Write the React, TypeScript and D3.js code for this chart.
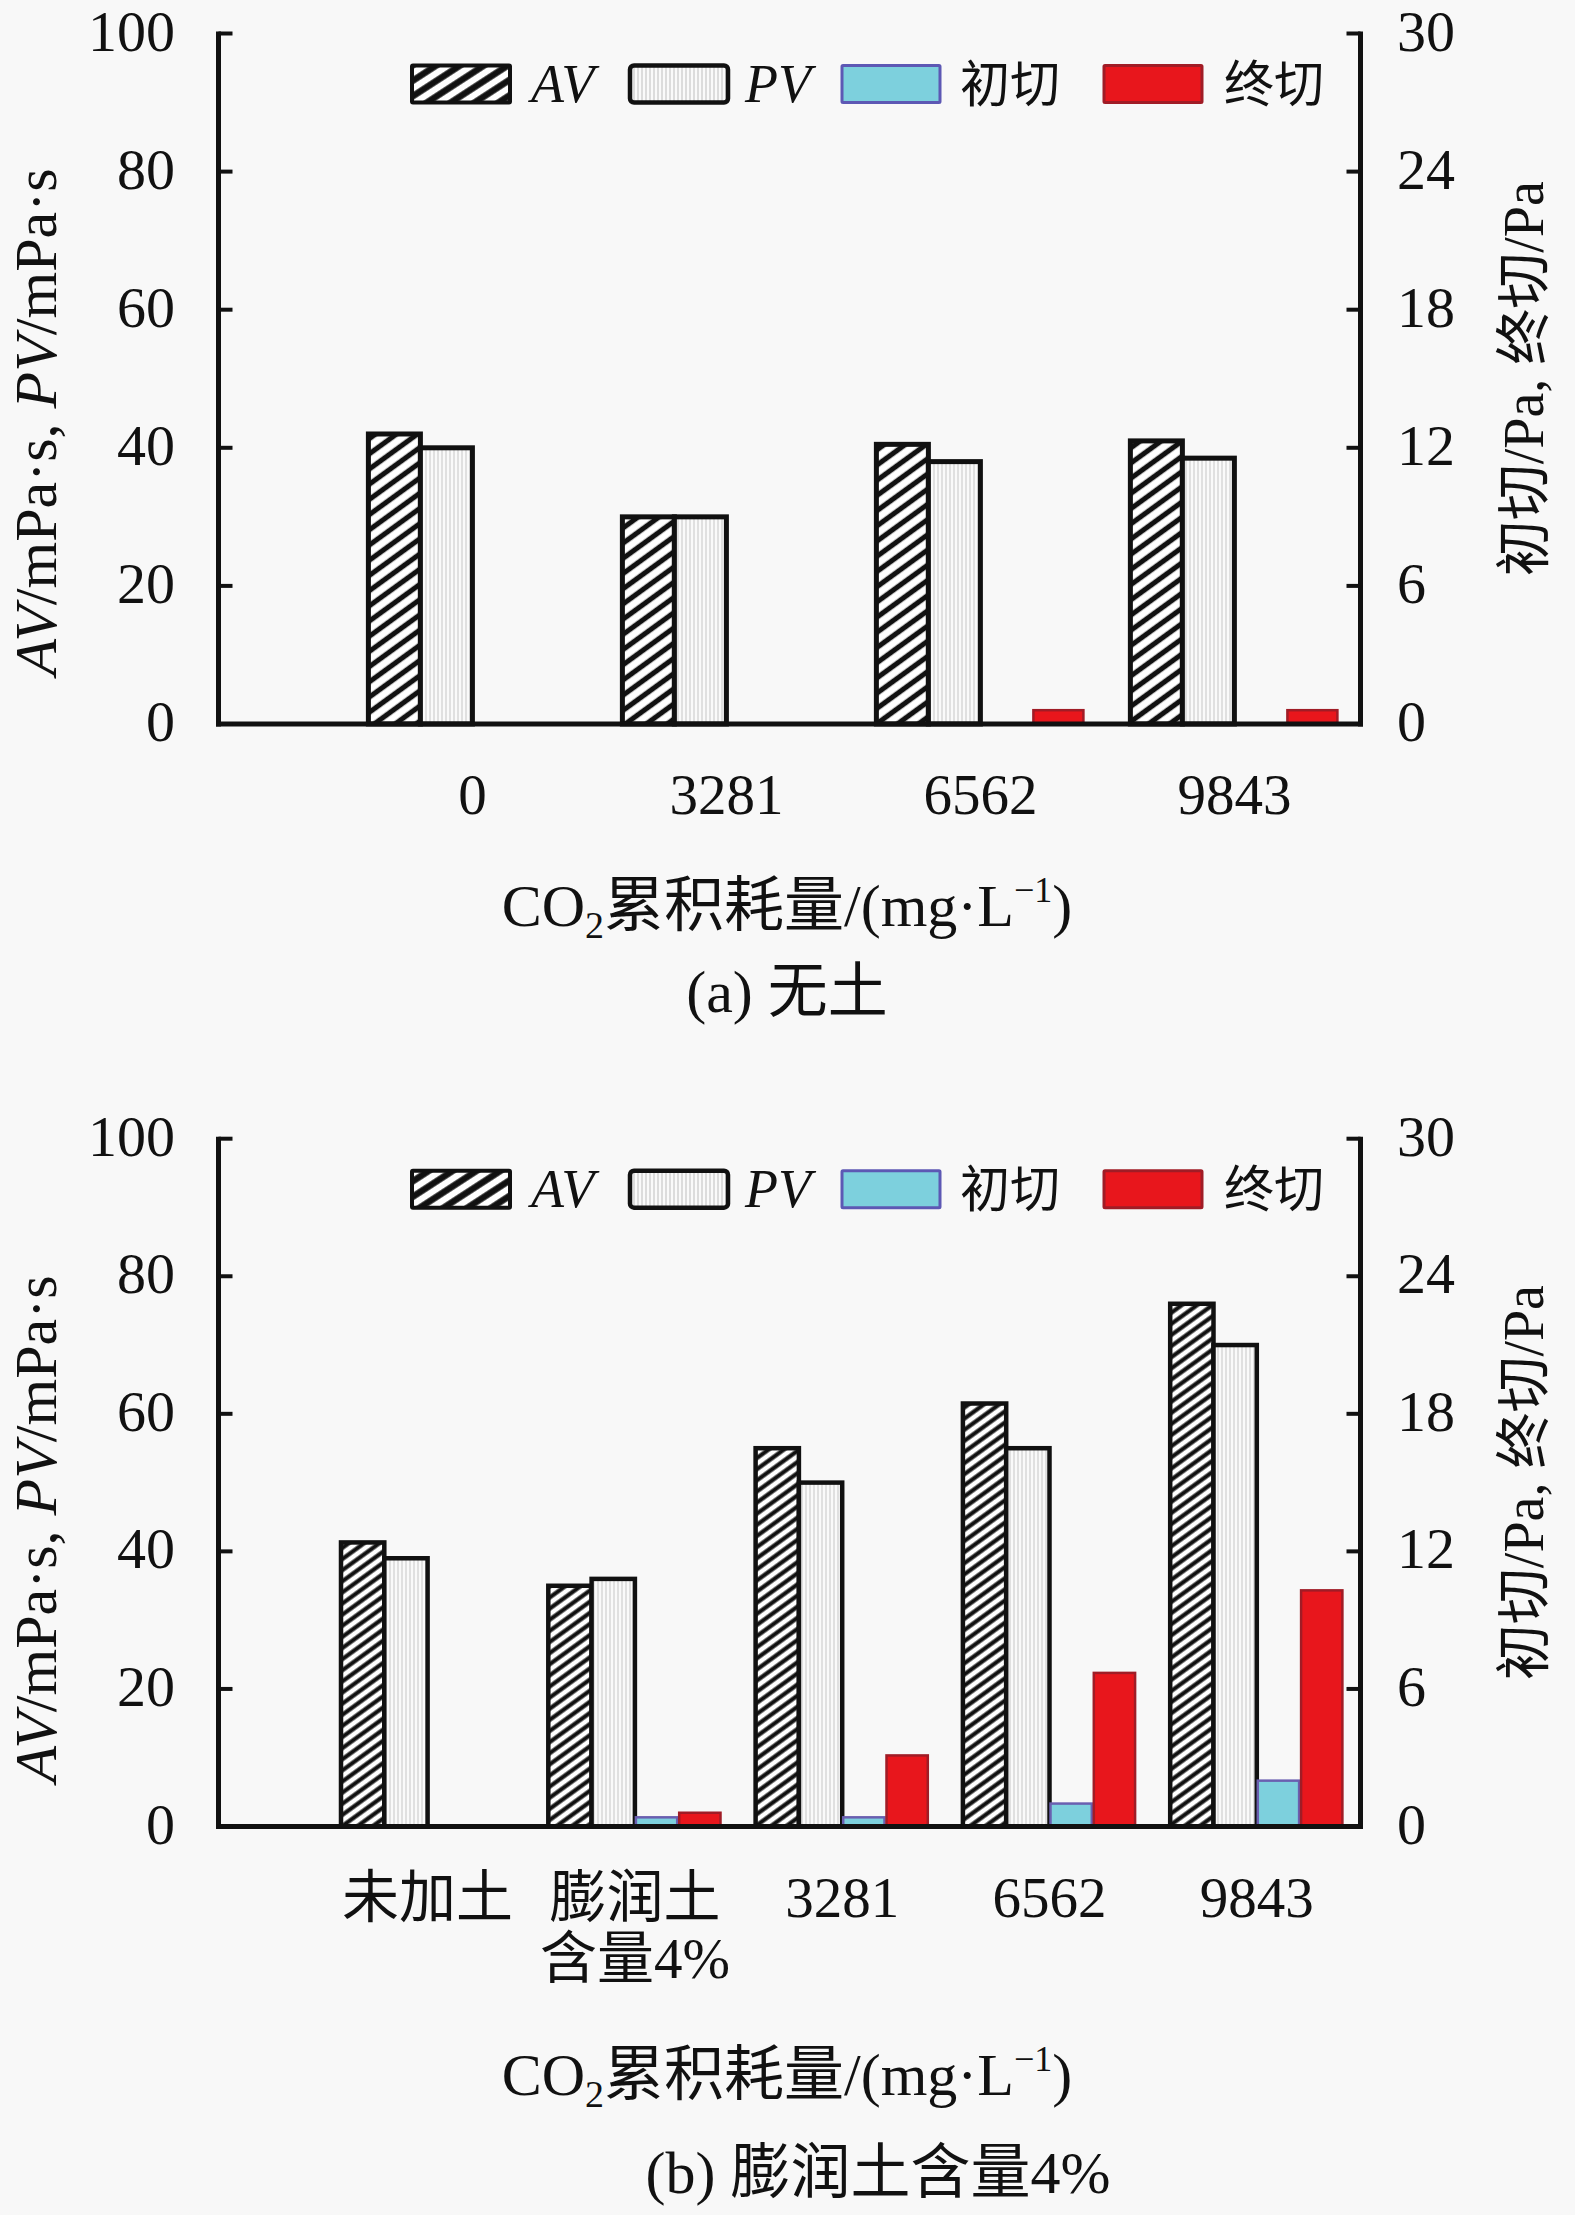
import React from "react";
import * as d3 from "d3";

// ---------- data ----------
const SERIES = ["AV", "PV", "初切", "终切"];
const LEFT_TICKS = [0, 20, 40, 60, 80, 100];
const RIGHT_TICKS = [0, 6, 12, 18, 24, 30];

// (a) 无土
const A_CATS = [["0"], ["3281"], ["6562"], ["9843"]];
const A_AV = [42, 30, 40.5, 41];
const A_PV = [40, 30, 38, 38.5];
const A_INIT = [0, 0, 0, 0];
const A_FINAL = [0, 0, 0.6, 0.6];

// (b) 膨润土含量4%
const B_CATS = [["未加土"], ["膨润土", "含量4%"], ["3281"], ["6562"], ["9843"]];
const B_AV = [41.3, 35, 55, 61.5, 76];
const B_PV = [39, 36, 50, 55, 70];
const B_INIT = [0, 0.4, 0.4, 1.0, 2.0];
const B_FINAL = [0, 0.6, 3.1, 6.7, 10.3];

const SERIF = "'Liberation Serif', 'Times New Roman', 'Noto Sans CJK SC', serif";
const BG = "#f8f8f8";

const LEFT_X = 218.5;
const RIGHT_X = 1360.5;

function Legend({ y }: { y: number }) {
  const sw = [412, 630, 842, 1104];
  const tx = [531, 745, 960, 1224];
  const fills = ["url(#hatchLeg)", "url(#dotsLeg)", "#7dd0dd", "#e8161c"];
  const strokes = ["#111", "#111", "#5d58b4", "#a01c26"];
  const sws = [4, 4.5, 3, 3];
  return (
    <g>
      {SERIES.map((s, i) => (
        <g key={s}>
          <rect x={sw[i]} y={y} width={98} height={37} fill={fills[i]} stroke={strokes[i]} strokeWidth={sws[i]} rx={i === 1 ? 4 : 1} />
          <text
            x={tx[i]}
            y={y + 36}
            fontFamily={SERIF}
            fontSize={i < 2 ? 54 : 50}
            fontStyle={i < 2 ? "italic" : "normal"}
            fill="#111"
          >
            {s}
          </text>
        </g>
      ))}
    </g>
  );
}

type PanelProps = {
  y0: number;
  y100: number;
  xStart: number;
  xEnd: number;
  padInner: number;
  cats: string[][];
  av: number[];
  pv: number[];
  ini: number[];
  fin: number[];
  titleY: number;
  caption: string;
  captionX: number;
  captionY: number;
  leftTitleCY: number;
  hatch: string;
  barStroke: number;
};

function Panel(p: PanelProps) {
  const keys = p.cats.map((c) => c.join(""));
  const x = d3.scaleBand<string>().domain(keys).range([p.xStart, p.xEnd]).paddingInner(p.padInner).paddingOuter(0);
  const xs = d3.scaleBand<string>().domain(SERIES).range([0, x.bandwidth()]);
  const yL = d3.scaleLinear().domain([0, 100]).range([p.y0, p.y100]);
  const yR = d3.scaleLinear().domain([0, 30]).range([p.y0, p.y100]);
  const rightCY = (p.y0 + p.y100) / 2;

  const bars: JSX.Element[] = [];
  keys.forEach((k, i) => {
    const vals = [p.av[i], p.pv[i], p.ini[i], p.fin[i]];
    SERIES.forEach((s, j) => {
      const v = vals[j];
      if (!v) return;
      const sc = j < 2 ? yL : yR;
      const bx = (x(k) as number) + (xs(s) as number);
      const bw = xs.bandwidth();
      const top = sc(v);
      const h = p.y0 - top;
      if (j === 0) {
        bars.push(<rect key={k + s} x={bx} y={top} width={bw} height={h} fill={`url(#${p.hatch})`} stroke="#111" strokeWidth={p.barStroke} />);
      } else if (j === 1) {
        bars.push(<rect key={k + s} x={bx} y={top} width={bw} height={h} fill="url(#dotsBar)" stroke="#111" strokeWidth={p.barStroke} />);
      } else if (j === 2) {
        bars.push(<rect key={k + s} x={bx + 1} y={top} width={bw - 2} height={h} fill="#7dd0dd" stroke="#6a5fb0" strokeWidth={2.5} />);
      } else {
        bars.push(<rect key={k + s} x={bx + 1} y={top} width={bw - 2} height={h} fill="#e8161c" stroke="#a01c26" strokeWidth={2.5} />);
      }
    });
  });

  return (
    <g>
      <Legend y={p.y100 + 32} />
      {bars}
      {/* axes */}
      <line x1={LEFT_X} x2={LEFT_X} y1={p.y0 + 2.5} y2={p.y100 - 2} stroke="#111" strokeWidth={5} />
      <line x1={RIGHT_X} x2={RIGHT_X} y1={p.y0 + 2.5} y2={p.y100 - 2} stroke="#111" strokeWidth={5} />
      <line x1={LEFT_X - 2.5} x2={RIGHT_X + 2.5} y1={p.y0} y2={p.y0} stroke="#111" strokeWidth={5} />
      {LEFT_TICKS.map((t) => (
        <g key={"l" + t}>
          <line x1={LEFT_X} x2={LEFT_X + 14} y1={yL(t)} y2={yL(t)} stroke="#111" strokeWidth={4} />
          <text x={175} y={yL(t) + 17} textAnchor="end" fontFamily={SERIF} fontSize={58} fill="#111">
            {t}
          </text>
        </g>
      ))}
      {RIGHT_TICKS.map((t) => (
        <g key={"r" + t}>
          <line x1={RIGHT_X} x2={RIGHT_X - 14} y1={yR(t)} y2={yR(t)} stroke="#111" strokeWidth={4} />
          <text x={1397} y={yR(t) + 17} textAnchor="start" fontFamily={SERIF} fontSize={58} fill="#111">
            {t}
          </text>
        </g>
      ))}
      {/* category labels */}
      {p.cats.map((c, i) =>
        c.map((line, li) => (
          <text
            key={keys[i] + li}
            x={(x(keys[i]) as number) + x.bandwidth() / 2}
            y={p.y0 + 90 + li * 61}
            textAnchor="middle"
            fontFamily={SERIF}
            fontSize={57}
            fill="#111"
          >
            {line}
          </text>
        ))
      )}
      {/* x title */}
      <text x={787} y={p.titleY} textAnchor="middle" fontFamily={SERIF} fontSize={60} fill="#111">
        <tspan>CO</tspan>
        <tspan dy={12} fontSize={38}>2</tspan>
        <tspan dy={-12}>累积耗量/(mg·L</tspan>
        <tspan dy={-24} fontSize={36}>−1</tspan>
        <tspan dy={24}>)</tspan>
      </text>
      {/* caption */}
      <text x={p.captionX} y={p.captionY} textAnchor="middle" fontFamily={SERIF} fontSize={60} fill="#111">
        {p.caption}
      </text>
      {/* left title */}
      <text
        transform={`translate(56,${p.leftTitleCY}) rotate(-90)`}
        textAnchor="middle"
        fontFamily={SERIF}
        fontSize={60}
        fill="#111"
      >
        <tspan fontStyle="italic">AV</tspan>
        <tspan>/mPa·s, </tspan>
        <tspan fontStyle="italic">PV</tspan>
        <tspan>/mPa·s</tspan>
      </text>
      {/* right title */}
      <text
        transform={`translate(1543,${rightCY}) rotate(-90)`}
        textAnchor="middle"
        fontFamily={SERIF}
        fontSize={56}
        fill="#111"
      >
        初切/Pa, 终切/Pa
      </text>
    </g>
  );
}

export default function App() {
  return (
    <svg
      width={1575}
      height={2215}
      viewBox="0 0 1575 2215"
      style={{ position: "absolute", left: 0, top: 0, background: BG }}
    >
      <defs>
        <pattern id="hatchA" patternUnits="userSpaceOnUse" width={12} height={12.3} patternTransform="rotate(-36)">
          <rect width={12} height={12.3} fill="#ffffff" />
          <line x1={-1} x2={13} y1={6.15} y2={6.15} stroke="#111" strokeWidth={5.2} />
        </pattern>
        <pattern id="hatchB" patternUnits="userSpaceOnUse" width={12} height={9} patternTransform="rotate(-36)">
          <rect width={12} height={9} fill="#ffffff" />
          <line x1={-1} x2={13} y1={4.5} y2={4.5} stroke="#111" strokeWidth={4.2} />
        </pattern>
        <pattern id="hatchLeg" patternUnits="userSpaceOnUse" width={20} height={13} patternTransform="rotate(-33)">
          <rect width={20} height={13} fill="#ffffff" />
          <line x1={-1} x2={21} y1={6.5} y2={6.5} stroke="#111" strokeWidth={6.5} />
        </pattern>
        <pattern id="dotsBar" patternUnits="userSpaceOnUse" width={4} height={4}>
          <rect width={4} height={4} fill="#fafafa" />
          <line x1={2} x2={2} y1={0} y2={4} stroke="#cbcbcb" strokeWidth={1.1} />
        </pattern>
        <pattern id="dotsLeg" patternUnits="userSpaceOnUse" width={4} height={4}>
          <rect width={4} height={4} fill="#fafafa" />
          <line x1={2} x2={2} y1={0} y2={4} stroke="#c4c4c4" strokeWidth={1.1} />
        </pattern>
      </defs>
      <rect width={1575} height={2215} fill={BG} />
      <Panel
        y0={724}
        y100={33.5}
        xStart={368.4}
        xEnd={1338.4}
        padInner={0.181}
        cats={A_CATS}
        av={A_AV}
        pv={A_PV}
        ini={A_INIT}
        fin={A_FINAL}
        titleY={926}
        caption="(a) 无土"
        captionX={787}
        captionY={1012}
        leftTitleCY={422}
        hatch="hatchA"
        barStroke={5}
      />
      <Panel
        y0={1826.5}
        y100={1138.7}
        xStart={341}
        xEnd={1343.4}
        padInner={0.1645}
        cats={B_CATS}
        av={B_AV}
        pv={B_PV}
        ini={B_INIT}
        fin={B_FINAL}
        titleY={2095}
        caption="(b) 膨润土含量4%"
        captionX={878}
        captionY={2193}
        leftTitleCY={1529}
        hatch="hatchB"
        barStroke={4.5}
      />
    </svg>
  );
}
